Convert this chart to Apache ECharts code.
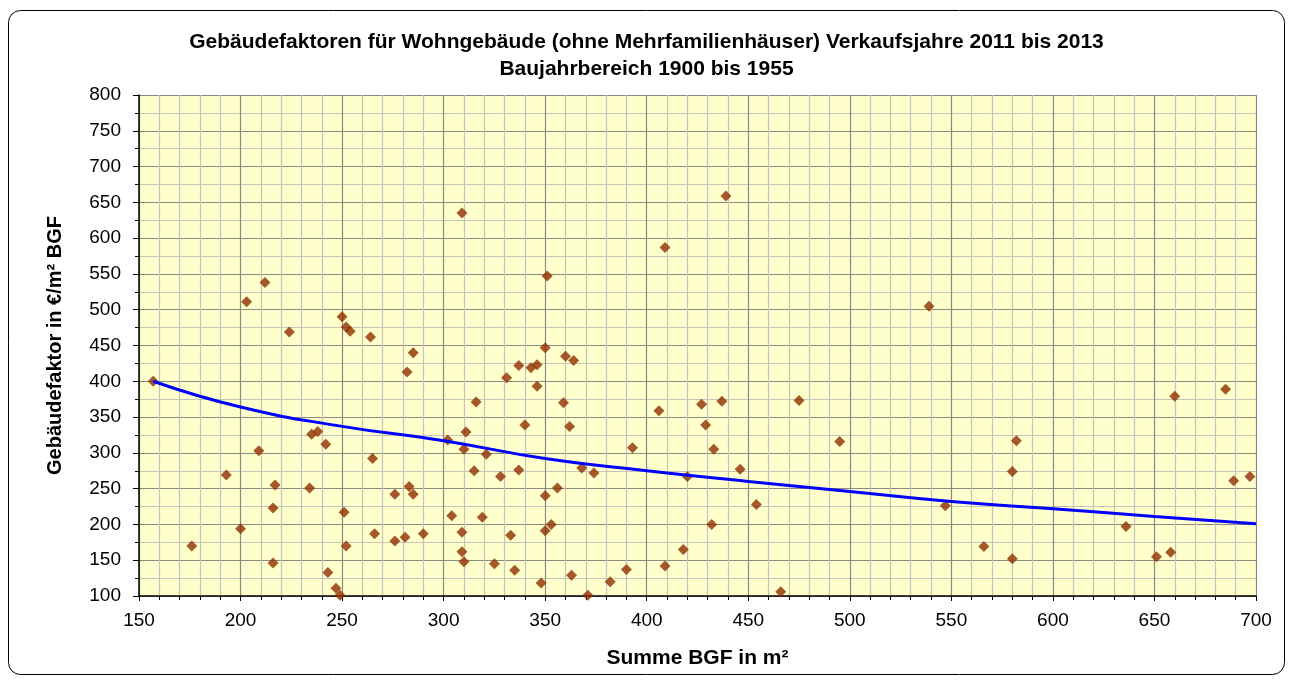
<!DOCTYPE html>
<html>
<head>
<meta charset="utf-8">
<title>Gebäudefaktoren</title>
<script src="https://cdn.jsdelivr.net/npm/echarts@6/dist/echarts.min.js"></script>
<style>
  html, body { margin: 0; padding: 0; background: #fff; }
  #chart { width: 1293px; height: 680px; }
</style>
</head>
<body>
<div id="chart"></div>
<script>
  // Summe BGF in m² / Gebäudefaktor in €/m² BGF
  const bgf = [
    157, 203, 212, 224, 250, 252, 254, 264, 285, 282, 235, 238, 242, 209, 265, 193,
    217, 234, 276, 283, 285, 216, 251, 200, 266, 276, 281, 176, 252, 216, 243, 247, 249,
    309, 409, 351, 350, 360, 364, 337, 343, 346, 331, 346, 316, 359, 406, 427, 340,
    362, 311, 302, 310, 321, 393, 368, 374, 420, 315, 328, 337, 350, 356, 304, 319,
    290, 309, 333, 350, 353, 309, 310, 325, 335, 348, 363, 371, 382, 390, 409, 418,
    437, 475, 429, 433, 495, 446, 454, 432, 547, 466,
    439, 539, 582, 580, 566, 580, 636, 651, 658, 660, 685, 689, 697
  ]
  const faktor = [
    400, 511, 538, 469, 490, 476, 470, 462, 440, 413, 326, 330, 312, 303, 292, 269,
    255, 251, 242, 253, 242, 223, 217, 194, 187, 177, 182, 170, 170, 146, 133, 111, 101,
    635, 587, 547, 447, 435, 429, 422, 419, 423, 405, 393, 371, 370, 359, 368, 339,
    337, 329, 318, 305, 298, 307, 279, 272, 267, 275, 267, 276, 240, 251, 212, 210,
    187, 189, 185, 191, 200, 162, 148, 145, 136, 118, 129, 101, 120, 137, 142, 165,
    372, 373, 339, 305, 316, 277, 228, 200, 226, 106,
    659, 505, 317, 274, 169, 152, 197, 155, 161, 379, 389, 261, 267
  ]

  // trend curve, read at a few positions
  const trendX = [157, 200, 250, 300, 350, 400, 450, 500, 550, 600, 650, 700]
  const trendY = [400, 364, 337, 317, 292, 275, 260, 246, 232, 222, 211, 201]

  const xTicks = { min: 150, max: 700, interval: 50 }
  const yTicks = { min: 100, max: 800, interval: 50 }

  const points = bgf.map((x, i) => [x, faktor[i]])
  const trend = trendX.map((x, i) => [x, trendY[i]])

  const font = 'Arial, "Liberation Sans", sans-serif'
  const chart = echarts.init(document.getElementById('chart'))

  chart.setOption({
    animation: false,
    backgroundColor: '#fff',
    textStyle: { fontFamily: font },
    title: {
      text: 'Gebäudefaktoren für Wohngebäude (ohne Mehrfamilienhäuser) Verkaufsjahre 2011 bis 2013\nBaujahrbereich 1900 bis 1955',
      left: 'center',
      top: 24,
      textStyle: {
        fontFamily: font,
        fontSize: 21,
        fontWeight: 'bold',
        color: '#000',
        lineHeight: 27
      }
    },
    graphic: [{
      type: 'rect',
      shape: { x: 8.5, y: 10.5, width: 1276, height: 664, r: 12 },
      style: { fill: 'none', stroke: '#000', lineWidth: 1 },
      silent: true,
      z: 100
    }],
    grid: {
      left: 139,
      right: 37,
      top: 95,
      bottom: 84,
      show: true,
      backgroundColor: '#FFFFCC',
      borderWidth: 0
    },
    xAxis: {
      type: 'value',
      min: xTicks.min,
      max: xTicks.max,
      interval: xTicks.interval,
      name: 'Summe BGF in m²',
      nameLocation: 'middle',
      nameGap: 52,
      nameTextStyle: { fontFamily: font, fontSize: 21, fontWeight: 'bold', color: '#000' },
      axisLine: { show: true, onZero: false, lineStyle: { color: '#000', width: 1.5 } },
      axisTick: { show: true, inside: false, length: 5, lineStyle: { color: '#000' } },
      minorTick: { show: true, splitNumber: 5, length: 4, lineStyle: { color: '#000' } },
      axisLabel: { fontFamily: font, fontSize: 19, color: '#000', margin: 15 },
      splitLine: { show: true, lineStyle: { color: '#8a8a80', width: 1.2 } },
      minorSplitLine: { show: true, lineStyle: { color: '#c4c4bc', width: 1.2 } }
    },
    yAxis: {
      type: 'value',
      min: yTicks.min,
      max: yTicks.max,
      interval: yTicks.interval,
      name: 'Gebäudefaktor in €/m² BGF',
      nameLocation: 'middle',
      nameGap: 74,
      nameTextStyle: { fontFamily: font, fontSize: 20, fontWeight: 'bold', color: '#000' },
      axisLine: { show: true, onZero: false, lineStyle: { color: '#000', width: 1.5 } },
      axisTick: { show: true, inside: false, length: 6, lineStyle: { color: '#000' } },
      minorTick: { show: true, splitNumber: 2, length: 4, lineStyle: { color: '#000' } },
      axisLabel: { fontFamily: font, fontSize: 19, color: '#000', margin: 18 },
      splitLine: { show: true, lineStyle: { color: '#8a8a80', width: 1.2 } },
      minorSplitLine: { show: true, lineStyle: { color: '#c4c4bc', width: 1.2 } }
    },
    series: [
      {
        type: 'scatter',
        data: points,
        symbol: 'diamond',
        symbolSize: 11,
        itemStyle: { color: '#8f2f00' },
        z: 3
      },
      {
        type: 'line',
        data: trend,
        smooth: true,
        symbol: 'none',
        lineStyle: { color: '#0000FF', width: 3 },
        z: 4
      }
    ]
  })
</script>
</body>
</html>
